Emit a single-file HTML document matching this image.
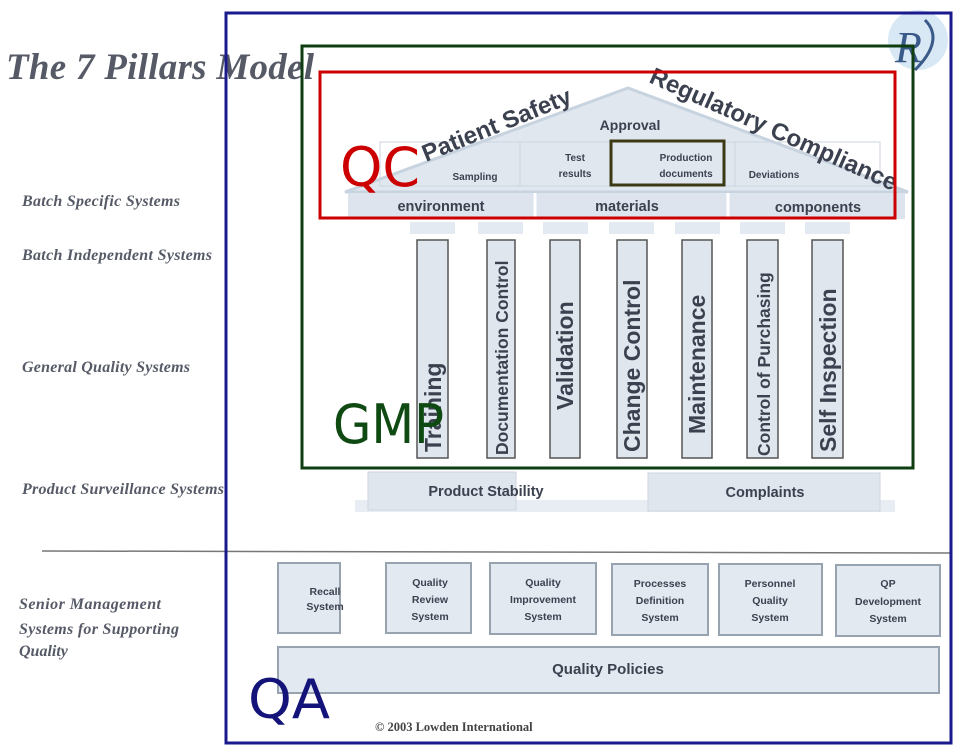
<!DOCTYPE html>
<html><head><meta charset="utf-8"><style>
html,body{margin:0;padding:0;background:#fff;}
svg{display:block;}
.ser{font-family:"Liberation Serif",serif;font-style:italic;font-weight:bold;fill:#555a66;}
.sans{font-family:"Liberation Sans",sans-serif;font-weight:bold;fill:#3c4150;}
.hand{font-family:"DejaVu Sans",sans-serif;}
</style></head><body>
<svg width="972" height="754" viewBox="0 0 972 754" xmlns="http://www.w3.org/2000/svg">
<!-- logo -->
<circle cx="918" cy="40" r="30" fill="#d9e8f5"/>
<text x="895" y="62" font-family="Liberation Serif,serif" font-style="italic" font-size="44" fill="#3a5a8a">R</text>
<path d="M925 20 Q945 40 915 70" stroke="#3a5a8a" stroke-width="3" fill="none"/>
<!-- title -->
<text x="6" y="79" class="ser" font-size="37" textLength="308" fill="#4a4f5a">The 7 Pillars Model</text>
<!-- left labels -->
<g class="ser" font-size="16">
<text x="22" y="206" textLength="158">Batch Specific Systems</text>
<text x="22" y="260" textLength="190">Batch Independent Systems</text>
<text x="22" y="372" textLength="168">General Quality Systems</text>
<text x="22" y="494" textLength="202">Product Surveillance Systems</text>
<text x="19" y="609" textLength="142">Senior Management</text>
<text x="19" y="634" textLength="160">Systems for Supporting</text>
<text x="19" y="656">Quality</text>
</g>
<line x1="42" y1="551" x2="950" y2="553" stroke="#777" stroke-width="1.5"/>
<!-- roof -->
<polygon points="345,192 628,88 908,192" fill="#e1e7ef" stroke="#c8d3e0" stroke-width="3"/>
<rect x="380" y="142" width="500" height="44" fill="none" stroke="#ccd5e0"/>
<line x1="520" y1="142" x2="520" y2="186" stroke="#ccd5e0"/>
<line x1="735" y1="142" x2="735" y2="186" stroke="#ccd5e0"/>
<rect x="348" y="193" width="557" height="26" fill="#dde4ed"/>
<line x1="535" y1="193" x2="535" y2="219" stroke="#fff" stroke-width="3"/>
<line x1="728" y1="193" x2="728" y2="219" stroke="#fff" stroke-width="3"/>
<g class="sans" text-anchor="middle">
<text x="630" y="130" font-size="14">Approval</text>
<text x="475" y="180" font-size="10">Sampling</text>
<text x="575" y="161" font-size="10">Test</text><text x="575" y="177" font-size="10">results</text>
<text x="686" y="161" font-size="10">Production</text><text x="686" y="177" font-size="10">documents</text>
<text x="774" y="178" font-size="10">Deviations</text>
<text x="441" y="211" font-size="14.5">environment</text>
<text x="627" y="211" font-size="14.5">materials</text>
<text x="818" y="212" font-size="14.5">components</text>
</g>
<text x="426" y="162" class="sans" font-size="24" fill="#333" transform="rotate(-22 426 162)">Patient Safety</text>
<text x="648" y="82" class="sans" font-size="24" fill="#333" transform="rotate(24 648 82)">Regulatory Compliance</text>
<!-- pillar caps -->
<g fill="#e3eaf2">
<rect x="410" y="222" width="45" height="12"/><rect x="478" y="222" width="45" height="12"/><rect x="543" y="222" width="45" height="12"/><rect x="609" y="222" width="45" height="12"/><rect x="675" y="222" width="45" height="12"/><rect x="740" y="222" width="45" height="12"/><rect x="805" y="222" width="45" height="12"/>
</g>
<!-- pillars -->
<g fill="#e0e6ee" stroke="#555" stroke-width="1.5">
<rect x="417" y="240" width="31" height="218"/>
<rect x="487" y="240" width="28" height="218"/>
<rect x="550" y="240" width="30" height="218"/>
<rect x="617" y="240" width="30" height="218"/>
<rect x="682" y="240" width="30" height="218"/>
<rect x="747" y="240" width="31" height="218"/>
<rect x="812" y="240" width="31" height="218"/>
</g>
<g class="sans" fill="#2e3340">
<text transform="translate(441 452) rotate(-90)" font-size="23">Training</text>
<text transform="translate(508 455) rotate(-90)" font-size="17.5">Documentation Control</text>
<text transform="translate(573 410) rotate(-90)" font-size="23">Validation</text>
<text transform="translate(640 452) rotate(-90)" font-size="23">Change Control</text>
<text transform="translate(705 434) rotate(-90)" font-size="23">Maintenance</text>
<text transform="translate(770 456) rotate(-90)" font-size="17.5">Control of Purchasing</text>
<text transform="translate(836 452) rotate(-90)" font-size="23">Self Inspection</text>
</g>
<!-- surveillance -->
<rect x="355" y="500" width="540" height="12" fill="#e8edf3"/>
<rect x="368" y="472" width="148" height="38" fill="#dfe6ee" stroke="#ccd5e0"/>
<rect x="648" y="473" width="232" height="38" fill="#dfe6ee" stroke="#ccd5e0"/>
<g class="sans" text-anchor="middle" font-size="14.5">
<text x="486" y="496">Product Stability</text>
<text x="765" y="497">Complaints</text>
</g>
<!-- bottom boxes -->
<g fill="#e3e9f0" stroke="#98a3b0" stroke-width="2">
<rect x="278" y="563" width="62" height="70"/>
<rect x="386" y="563" width="85" height="70"/>
<rect x="490" y="563" width="106" height="71"/>
<rect x="612" y="564" width="96" height="71"/>
<rect x="719" y="564" width="103" height="71"/>
<rect x="836" y="565" width="104" height="71"/>
<rect x="278" y="647" width="661" height="46"/>
</g>
<g class="sans" text-anchor="middle" font-size="10.5">
<text x="325" y="595">Recall</text><text x="325" y="610">System</text>
<text x="430" y="586">Quality</text><text x="430" y="603">Review</text><text x="430" y="620">System</text>
<text x="543" y="586">Quality</text><text x="543" y="603">Improvement</text><text x="543" y="620">System</text>
<text x="660" y="587">Processes</text><text x="660" y="604">Definition</text><text x="660" y="621">System</text>
<text x="770" y="587">Personnel</text><text x="770" y="604">Quality</text><text x="770" y="621">System</text>
<text x="888" y="587">QP</text><text x="888" y="605">Development</text><text x="888" y="622">System</text>
<text x="608" y="674" font-size="15">Quality Policies</text>
</g>
<text x="375" y="731" font-family="Liberation Serif,serif" font-weight="bold" font-size="12.5" fill="#444">© 2003 Lowden International</text>
<!-- overlay boxes -->
<rect x="226" y="13" width="725" height="730" fill="none" stroke="#1a1a8c" stroke-width="3"/>
<rect x="302" y="46" width="611" height="422" fill="none" stroke="#0f3d12" stroke-width="3"/>
<rect x="320" y="72" width="575" height="146" fill="none" stroke="#cc0000" stroke-width="3"/>
<rect x="611" y="141" width="113" height="44" fill="none" stroke="#3c3a14" stroke-width="3"/>
<text x="340" y="186" class="hand" font-size="54" textLength="80" lengthAdjust="spacingAndGlyphs" fill="#cc0000">QC</text>
<text x="333" y="443" class="hand" font-size="54" textLength="111" lengthAdjust="spacingAndGlyphs" fill="#0f4a12">GMP</text>
<text x="248" y="718" class="hand" font-size="54" textLength="82" lengthAdjust="spacingAndGlyphs" fill="#13137a">QA</text>
</svg>
</body></html>
